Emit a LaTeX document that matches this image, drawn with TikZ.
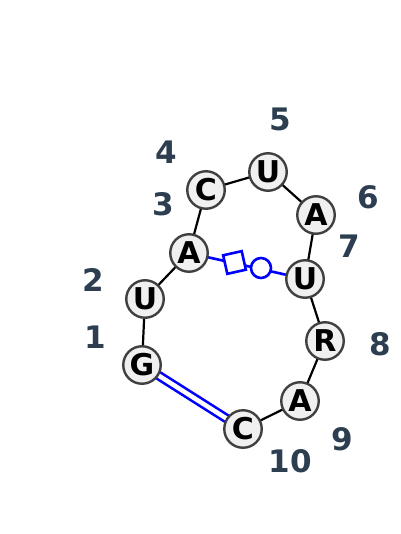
\documentclass[tikz,border=0pt]{standalone}
\usepackage{fontspec}
\setmainfont{DejaVu Sans}
\begin{document}
\begin{tikzpicture}[x=1pt,y=-1pt,
  nt/.style={circle,draw=black!75,line width=2.4pt,fill=black!6,minimum size=37.5pt,inner sep=0pt,font=\fontsize{30}{30}\selectfont\bfseries},
  num/.style={font=\fontsize{31}{31}\selectfont\bfseries,text=numcol},
  bb/.style={draw=black,line width=2.2pt},
  nc/.style={draw=blue,line width=2.6pt}]
\definecolor{numcol}{HTML}{2C3E50}
\useasboundingbox (0,0) rectangle (400,534);
\coordinate (G1) at (142,365);
\coordinate (U2) at (145,299);
\coordinate (A3) at (189,253);
\coordinate (C4) at (206,190);
\coordinate (U5) at (268,172);
\coordinate (A6) at (316,215);
\coordinate (U7) at (305,279);
\coordinate (R8) at (325,341);
\coordinate (A9) at (300,401);
\coordinate (C10) at (243,429);
% backbone
\draw[bb] (G1) -- (U2) -- (A3) -- (C4) -- (U5) -- (A6) -- (U7) -- (R8) -- (A9) -- (C10);
% G-C double
\draw[draw=blue,line width=2.6pt,double=white,double distance=4.5pt,shorten <=10pt,shorten >=10pt] (G1) -- (C10);
% A-U noncanonical
\draw[nc] (A3) -- (U7);
\node[nc,fill=white,rectangle,minimum size=19pt,inner sep=0pt,rotate=12.6] (sq) at (234.5,262.5) {};
\node[nc,fill=white,circle,minimum size=20pt,inner sep=0pt] (ci) at (261,268) {};
% nodes
\node[nt] (n1) at (G1) {G};
\node[nt] (n2) at (U2) {U};
\node[nt] (n3) at (A3) {A};
\node[nt] (n4) at (C4) {C};
\node[nt] (n5) at (U5) {U};
\node[nt] (n6) at (A6) {A};
\node[nt] (n7) at (U7) {U};
\node[nt] (n8) at (R8) {R};
\node[nt] (n9) at (A9) {A};
\node[nt] (n10) at (C10) {C};
% numbers
\node[num] (l1) at (95,337) {1};
\node[num] (l2) at (93,280) {2};
\node[num] (l3) at (163,204) {3};
\node[num] (l4) at (166,152) {4};
\node[num] (l5) at (280,119) {5};
\node[num] (l6) at (368,197) {6};
\node[num] (l7) at (349,246) {7};
\node[num] (l8) at (380,344) {8};
\node[num] (l9) at (342,439) {9};
\node[num] (l10) at (290,461) {10};
\end{tikzpicture}
\end{document}
